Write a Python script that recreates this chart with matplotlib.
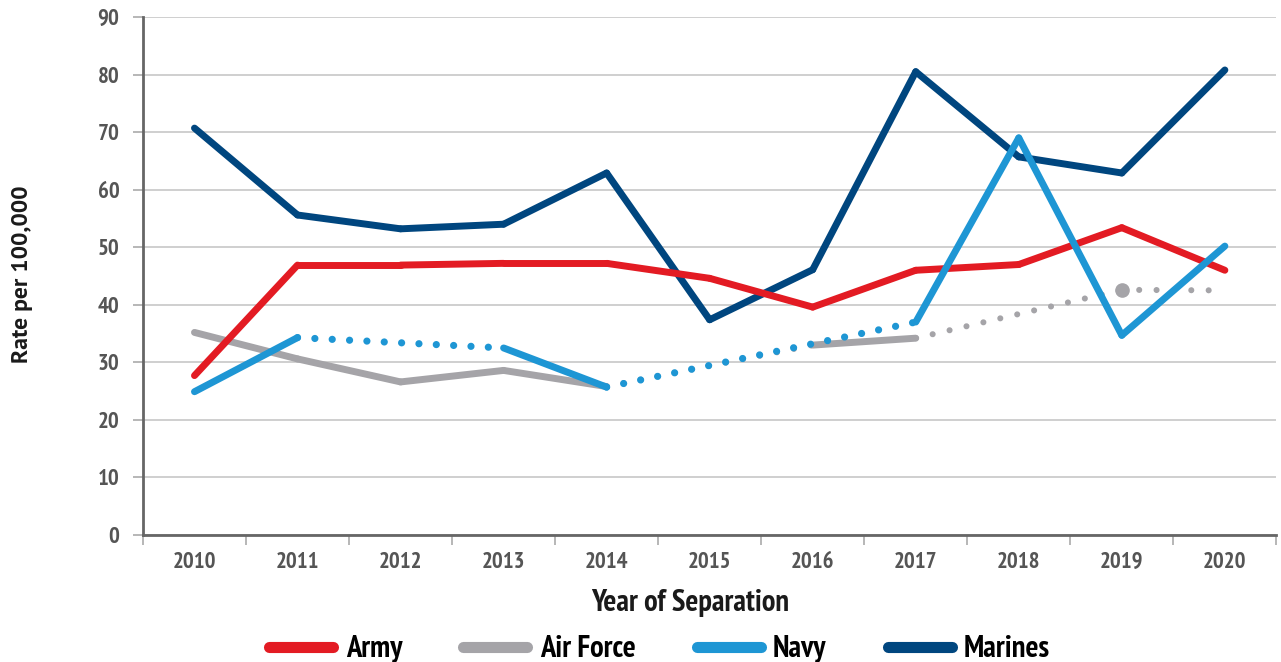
import matplotlib
matplotlib.use("Agg")
import matplotlib.pyplot as plt
from matplotlib.ticker import FixedLocator

# Data (None = no value published that year)
years = [2010, 2011, 2012, 2013, 2014, 2015, 2016, 2017, 2018, 2019, 2020]
army = [27.7, 46.9, 46.9, 47.2, 47.2, 44.6, 39.6, 46.0, 47.0, 53.4, 46.0]
air_force = [35.2, 30.6, 26.6, 28.6, 25.8, None, 33.0, 34.2, None, 42.6, 42.5]
navy = [24.9, 34.3, None, 32.5, 25.7, None, None, 37.0, 69.0, 34.7, 50.2]
marines = [70.7, 55.6, 53.2, 54.0, 62.9, 37.4, 46.1, 80.5, 65.7, 62.9, 80.8]

# Air Force: from 2017 on the line is shown dotted, 2019 is marked
af_dotted_from = 2017
af_marker_year = 2019

colors = {
    "Army": "#E31B23",
    "Air Force": "#A5A4A8",
    "Navy": "#1E96D4",
    "Marines": "#00467F",
}

cond = ["PT Sans Narrow", "DejaVu Sans"]
plain = ["PT Sans", "DejaVu Sans"]

DOT_STEP = 12.5  # points between dot centres


def draw_series(ax, xs, ys, color, z, dotted_from=None, dot_lw=5.2, solid_lw=5.0):
    # solid between consecutive years, dotted across gaps
    pts = [(x, y) for x, y in zip(xs, ys) if y is not None]
    for (x0, y0), (x1, y1) in zip(pts[:-1], pts[1:]):
        gap = (x1 - x0) > 1
        dotted = gap or (dotted_from is not None and x0 >= dotted_from)
        if dotted:
            ax.plot([x0, x1], [y0, y1], color=color, lw=dot_lw,
                    linestyle=(0, (0.001, DOT_STEP / dot_lw)),
                    dash_capstyle="round", zorder=z)
        else:
            ax.plot([x0, x1], [y0, y1], color=color, lw=solid_lw,
                    solid_capstyle="round", solid_joinstyle="round", zorder=z + 0.1)


fig = plt.figure(figsize=(12.81, 6.62), dpi=100)
ax = fig.add_axes([0.1116, 0.1918, 0.8848, 0.7825])

draw_series(ax, years, air_force, colors["Air Force"], 2, dotted_from=af_dotted_from, dot_lw=4.4)
ax.plot([af_marker_year], [air_force[years.index(af_marker_year)]], "o",
        color=colors["Air Force"], markersize=9.5, zorder=2.2)
draw_series(ax, years, marines, colors["Marines"], 3)
draw_series(ax, years, army, colors["Army"], 4)
draw_series(ax, years, navy, colors["Navy"], 5)

ax.set_xlim(years[0] - 0.5, years[-1] + 0.5)
ax.set_ylim(0, 90)
ax.set_yticks(range(0, 91, 10))
ax.set_xticks(years)
ax.xaxis.set_minor_locator(FixedLocator([y - 0.5 for y in years] + [years[-1] + 0.5]))

ax.grid(axis="y", color="#CCCCCC", lw=1.3, zorder=0)
ax.set_axisbelow(True)
for s in ["top", "right"]:
    ax.spines[s].set_visible(False)
for s in ["left", "bottom"]:
    ax.spines[s].set_color("#666666")
    ax.spines[s].set_linewidth(2.0)
    ax.spines[s].set_zorder(6)

ax.tick_params(axis="x", which="major", length=0, pad=12, labelcolor="#555555")
ax.tick_params(axis="x", which="minor", length=7, width=1.2, color="#AAAAAA")
ax.tick_params(axis="y", length=7, width=1.2, color="#AAAAAA", pad=10, labelcolor="#555555")
for lab in ax.get_xticklabels() + ax.get_yticklabels():
    lab.set_family(cond)
    lab.set_fontweight("bold")
    lab.set_fontsize(16.5)

fig.text(0.5386, 0.089, "Year of Separation", ha="center", va="center",
         family=cond, fontweight="bold", fontsize=22, color="#1A1A1A")
fig.text(0.0172, 0.585, "Rate per 100,000", rotation=90, ha="center", va="center",
         family=plain, fontweight="bold", fontsize=17, color="#1A1A1A")

handles = [plt.Line2D([], [], color=colors[k], lw=8, solid_capstyle="round")
           for k in ["Army", "Air Force", "Navy", "Marines"]]
fig.legend(handles, ["Army", "Air Force", "Navy", "Marines"], loc="center",
           bbox_to_anchor=(0.515, 0.019), ncol=4, frameon=False,
           prop={"family": cond, "weight": "bold", "size": 22},
           handlelength=2.1, handletextpad=0.4, columnspacing=2.0)

fig.savefig("out.png", dpi=100)
